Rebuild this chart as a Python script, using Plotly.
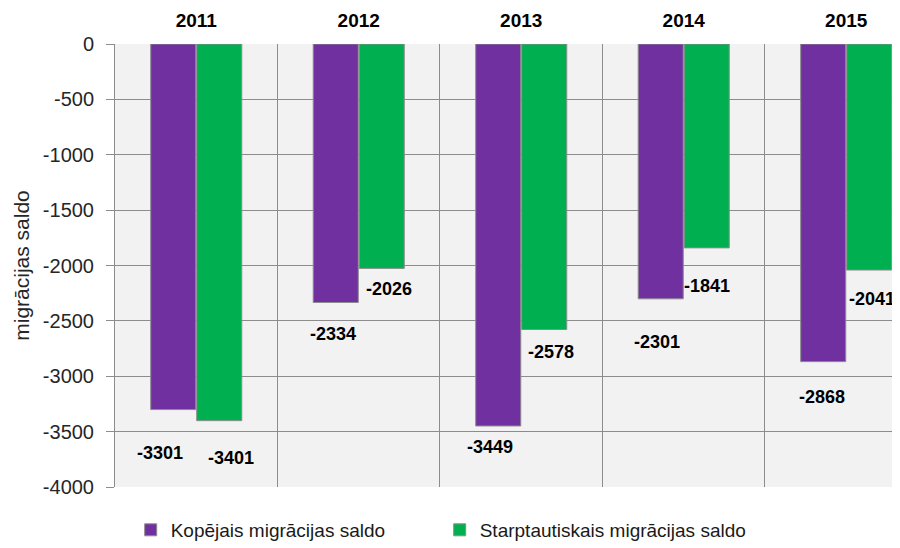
import plotly.graph_objects as go

years = ["2011", "2012", "2013", "2014", "2015"]
total_saldo = [-3301, -2334, -3449, -2301, -2868]
intl_saldo = [-3401, -2026, -2578, -1841, -2041]
series_names = ["Kopējais migrācijas saldo", "Starptautiskais migrācijas saldo"]
y_ticks = [0, -500, -1000, -1500, -2000, -2500, -3000, -3500, -4000]

# label offsets (pixels) to mimic manually placed data labels
total_shift = [(-13, -43), (-3, -32), (-8, -21), (-4, -43), (-1.5, -35)]
intl_shift = [(12, -37), (7, -21), (7, -22), (0.5, -38), (3, -29)]

PURPLE = "#7030A0"
GREEN = "#00B050"
FONT = "Liberation Sans, Arial, sans-serif"

fig = go.Figure()
fig.add_trace(go.Bar(x=years, y=total_saldo, name=series_names[0],
                     marker=dict(color=PURPLE, line=dict(color="#8c8c8c", width=1)),
                     offsetgroup="a"))
fig.add_trace(go.Bar(x=years, y=intl_saldo, name=series_names[1],
                     marker=dict(color=GREEN, line=dict(color="#8c8c8c", width=1)),
                     offsetgroup="b"))

annotations = []
for i, y in enumerate(years):
    for vals, shifts, off in ((total_saldo, total_shift, -23), (intl_saldo, intl_shift, 23)):
        dx, dy = shifts[i]
        annotations.append(dict(
            x=i, y=vals[i], xref="x", yref="y", text=f"<b>{vals[i]}</b>",
            showarrow=False, xshift=off + dx, yshift=dy,
            font=dict(family=FONT, size=18, color="#000000"),
            xanchor="center", yanchor="middle"))

# the page body adds an 8px offset, so the figure is 8px smaller on each axis
fig.update_layout(
    width=892, height=540,
    margin=dict(l=107, r=0, t=36, b=61, autoexpand=False),
    paper_bgcolor="#ffffff",
    plot_bgcolor="#F2F2F2",
    barmode="group",
    bargap=0.434,
    bargroupgap=0.02,
    font=dict(family=FONT, size=18, color="#000000"),
    annotations=annotations,
    showlegend=True,
    legend=dict(orientation="h", x=0.02, xanchor="left", y=-0.097, yanchor="middle",
                entrywidth=264, entrywidthmode="pixels",
                font=dict(family=FONT, size=19, color="#1a1a1a"),
                bgcolor="rgba(0,0,0,0)"),
)

fig.update_xaxes(
    type="category", side="top", range=[-0.5, 4.331], automargin=False,
    tickson="boundaries", showgrid=True, gridcolor="#8c8c8c", gridwidth=1,
    ticks="", showline=False, zeroline=False, ticklabelstandoff=12,
    tickfont=dict(family=FONT, size=19, color="#000000", weight="bold"),
)
fig.update_yaxes(
    range=[-4000, 0], tickvals=y_ticks, ticktext=[str(v) for v in y_ticks],
    automargin=False,
    showgrid=True, gridcolor="#8c8c8c", gridwidth=1,
    zeroline=False, showline=True, linecolor="#8c8c8c", linewidth=1,
    ticks="outside", ticklen=8, tickcolor="#8c8c8c", ticklabelstandoff=8,
    tickfont=dict(family=FONT, size=20, color="#262626"),
    title=dict(text="migrācijas saldo", font=dict(family=FONT, size=21, color="#262626"), standoff=7),
)

fig.write_html("out.html")
